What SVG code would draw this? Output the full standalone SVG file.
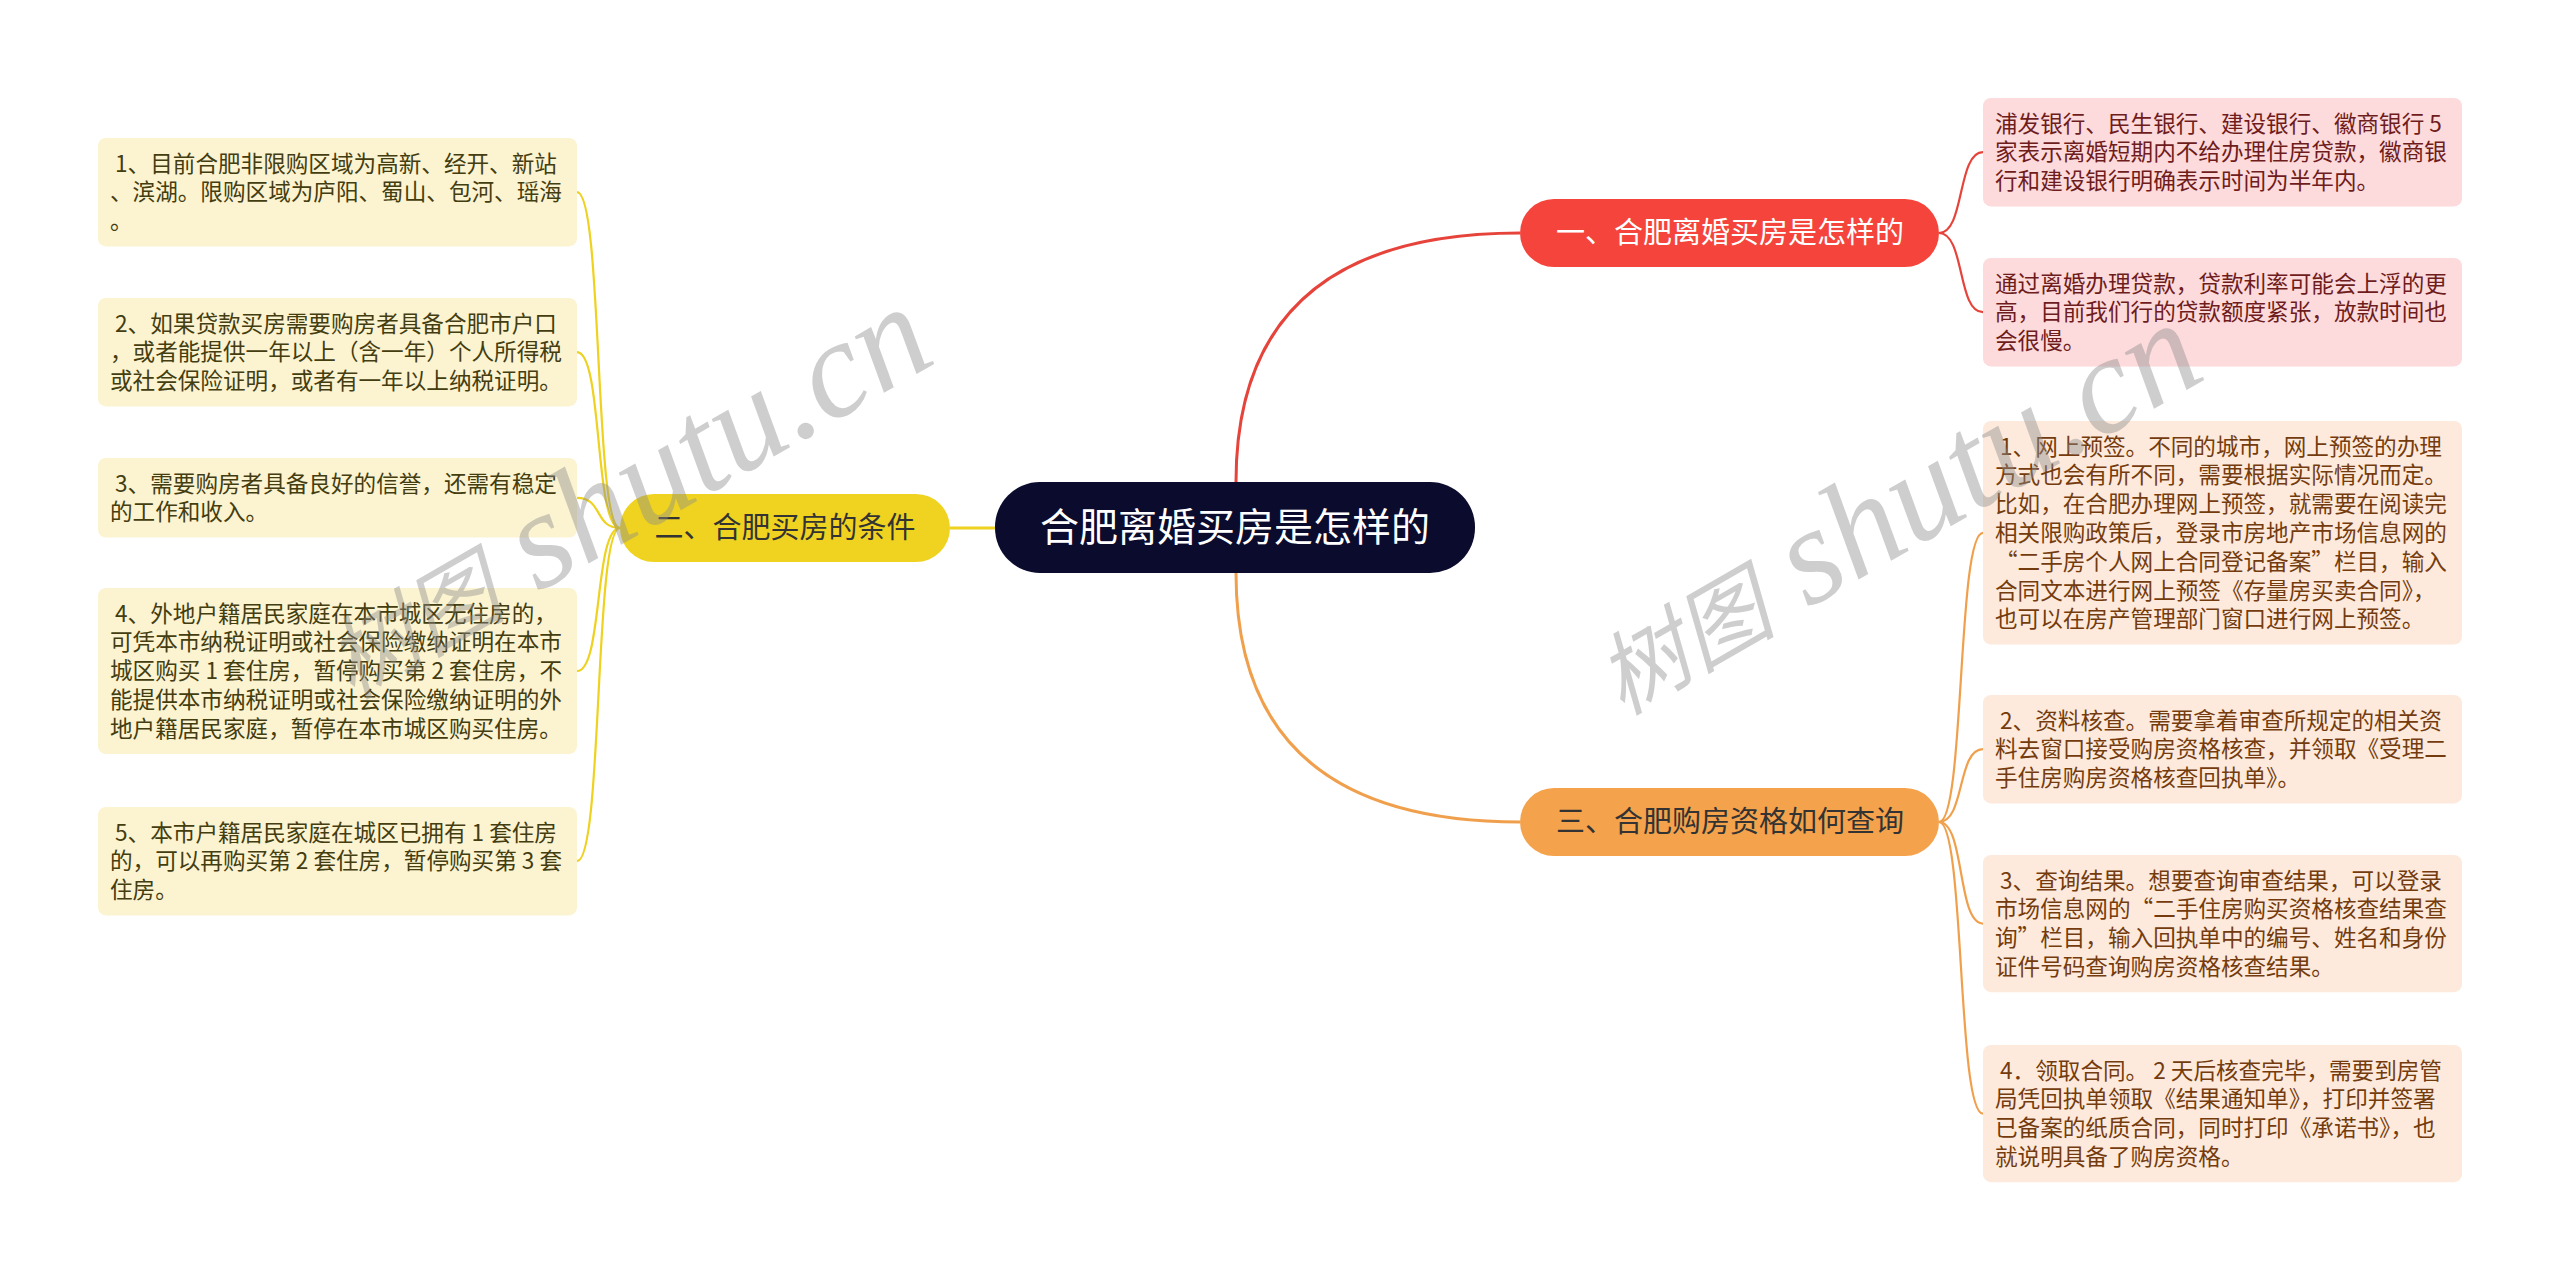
<svg xmlns="http://www.w3.org/2000/svg" width="2560" height="1281" viewBox="0 0 2560 1281">
<style>
text{font-family:"Noto Sans CJK SC","Noto Sans",sans-serif;white-space:pre}
.t{font-size:22.6px}
.ty{fill:#433d10}
.tr{fill:#6e1c1c}
.to{fill:#743c0e}
.by{fill:#fcf3d1}
.br{fill:#fddadb}
.bo{fill:#fdeadc}
.mn{font-size:29px;text-anchor:middle}
.cy{fill:none;stroke:#eed21f;stroke-width:2.2}
.cr{fill:none;stroke:#e6443b;stroke-width:2.2}
.co{fill:none;stroke:#f0a04c;stroke-width:2.2}
.wm{font-family:"Liberation Serif","Noto Sans CJK SC",serif;font-style:italic;font-size:138px;fill:#8c8c8c;opacity:0.42}
.wc{font-size:90px;font-family:"Noto Sans CJK SC",serif}
</style>
<rect width="2560" height="1281" fill="#ffffff"/>
<g id="connectors">
<path class="cr" d="M1236,482 Q1236,233 1520,233" style="stroke-width:3"/>
<path class="co" d="M1236,573 Q1236,822 1520,822" style="stroke-width:3"/>
<path class="cy" d="M995,528 L950,528" style="stroke-width:3"/>
<path class="cy" d="M620,528 C594,528 603,192.2 577,192.2"/>
<path class="cy" d="M620,528 C594,528 603,352.2 577,352.2"/>
<path class="cy" d="M620,528 C594,528 603,497.8 577,497.8"/>
<path class="cy" d="M620,528 C594,528 603,671 577,671"/>
<path class="cy" d="M620,528 C594,528 603,861.2 577,861.2"/>
<path class="cr" d="M1939,233 C1965,233 1957,152.2 1983,152.2"/>
<path class="cr" d="M1939,233 C1965,233 1957,312.2 1983,312.2"/>
<path class="co" d="M1939,822 C1965,822 1957,532.8 1983,532.8"/>
<path class="co" d="M1939,822 C1965,822 1957,749.2 1983,749.2"/>
<path class="co" d="M1939,822 C1965,822 1957,923.6 1983,923.6"/>
<path class="co" d="M1939,822 C1965,822 1957,1113.6 1983,1113.6"/>
</g>
<g id="root">
<rect x="995" y="482" width="480" height="91" rx="45" fill="#0b0b2d"/>
<text x="1235" y="541" style="font-size:39px;text-anchor:middle;fill:#ffffff">合肥离婚买房是怎样的</text>
</g>
<g id="branch1">
<rect x="1520" y="199" width="419" height="68" rx="34" fill="#f5443b"/>
<text class="mn" x="1730" y="243" style="fill:#ffffff">一、合肥离婚买房是怎样的</text>
</g>
<g id="branch2">
<rect x="620" y="494" width="330" height="68" rx="34" fill="#efd320"/>
<text class="mn" x="785" y="538" style="fill:#333333">二、合肥买房的条件</text>
</g>
<g id="branch3">
<rect x="1520" y="788" width="419" height="68" rx="34" fill="#f4a24c"/>
<text class="mn" x="1730" y="832" style="fill:#333333">三、合肥购房资格如何查询</text>
</g>
<g id="y1">
<rect class="by" x="98" y="138" width="479" height="108.4" rx="8"/>
<text class="t ty" x="110" y="171.5"> 1、目前合肥非限购区域为高新、经开、新站</text>
<text class="t ty" x="110" y="200.3">、滨湖。限购区域为庐阳、蜀山、包河、瑶海</text>
<text class="t ty" x="110" y="229.1">。</text>
</g>
<g id="y2">
<rect class="by" x="98" y="298" width="479" height="108.4" rx="8"/>
<text class="t ty" x="110" y="331.5"> 2、如果贷款买房需要购房者具备合肥市户口</text>
<text class="t ty" x="110" y="360.3">，或者能提供一年以上（含一年）个人所得税</text>
<text class="t ty" x="110" y="389.1">或社会保险证明，或者有一年以上纳税证明。</text>
</g>
<g id="y3">
<rect class="by" x="98" y="458" width="479" height="79.6" rx="8"/>
<text class="t ty" x="110" y="491.5"> 3、需要购房者具备良好的信誉，还需有稳定</text>
<text class="t ty" x="110" y="520.3">的工作和收入。</text>
</g>
<g id="y4">
<rect class="by" x="98" y="588" width="479" height="166" rx="8"/>
<text class="t ty" x="110" y="621.5"> 4、外地户籍居民家庭在本市城区无住房的，</text>
<text class="t ty" x="110" y="650.3">可凭本市纳税证明或社会保险缴纳证明在本市</text>
<text class="t ty" x="110" y="679.1">城区购买 1 套住房，暂停购买第 2 套住房，不</text>
<text class="t ty" x="110" y="707.9">能提供本市纳税证明或社会保险缴纳证明的外</text>
<text class="t ty" x="110" y="736.7">地户籍居民家庭，暂停在本市城区购买住房。</text>
</g>
<g id="y5">
<rect class="by" x="98" y="807" width="479" height="108.4" rx="8"/>
<text class="t ty" x="110" y="840.5"> 5、本市户籍居民家庭在城区已拥有 1 套住房</text>
<text class="t ty" x="110" y="869.3">的，可以再购买第 2 套住房，暂停购买第 3 套</text>
<text class="t ty" x="110" y="898.1">住房。</text>
</g>
<g id="r1">
<rect class="br" x="1983" y="98" width="479" height="108.4" rx="8"/>
<text class="t tr" x="1995" y="131.5">浦发银行、民生银行、建设银行、徽商银行 5</text>
<text class="t tr" x="1995" y="160.3">家表示离婚短期内不给办理住房贷款，徽商银</text>
<text class="t tr" x="1995" y="189.1">行和建设银行明确表示时间为半年内。</text>
</g>
<g id="r2">
<rect class="br" x="1983" y="258" width="479" height="108.4" rx="8"/>
<text class="t tr" x="1995" y="291.5">通过离婚办理贷款，贷款利率可能会上浮的更</text>
<text class="t tr" x="1995" y="320.3">高，目前我们行的贷款额度紧张，放款时间也</text>
<text class="t tr" x="1995" y="349.1">会很慢。</text>
</g>
<g id="o1">
<rect class="bo" x="1983" y="421" width="479" height="223.6" rx="8"/>
<text class="t to" x="1995" y="454.5"> 1、网上预签。不同的城市，网上预签的办理</text>
<text class="t to" x="1995" y="483.3">方式也会有所不同，需要根据实际情况而定。</text>
<text class="t to" x="1995" y="512.1">比如，在合肥办理网上预签，就需要在阅读完</text>
<text class="t to" x="1995" y="540.9">相关限购政策后，登录市房地产市场信息网的</text>
<text class="t to" x="1995" y="569.7">“二手房个人网上合同登记备案”栏目，输入</text>
<text class="t to" x="1995" y="598.5">合同文本进行网上预签《存量房买卖合同》，</text>
<text class="t to" x="1995" y="627.3">也可以在房产管理部门窗口进行网上预签。</text>
</g>
<g id="o2">
<rect class="bo" x="1983" y="695" width="479" height="108.4" rx="8"/>
<text class="t to" x="1995" y="728.5"> 2、资料核查。需要拿着审查所规定的相关资</text>
<text class="t to" x="1995" y="757.3">料去窗口接受购房资格核查，并领取《受理二</text>
<text class="t to" x="1995" y="786.1">手住房购房资格核查回执单》。</text>
</g>
<g id="o3">
<rect class="bo" x="1983" y="855" width="479" height="137.2" rx="8"/>
<text class="t to" x="1995" y="888.5"> 3、查询结果。想要查询审查结果，可以登录</text>
<text class="t to" x="1995" y="917.3">市场信息网的“二手住房购买资格核查结果查</text>
<text class="t to" x="1995" y="946.1">询”栏目，输入回执单中的编号、姓名和身份</text>
<text class="t to" x="1995" y="974.9">证件号码查询购房资格核查结果。</text>
</g>
<g id="o4">
<rect class="bo" x="1983" y="1045" width="479" height="137.2" rx="8"/>
<text class="t to" x="1995" y="1078.5"> 4．领取合同。 2 天后核查完毕，需要到房管</text>
<text class="t to" x="1995" y="1107.3">局凭回执单领取《结果通知单》，打印并签署</text>
<text class="t to" x="1995" y="1136.1">已备案的纸质合同，同时打印《承诺书》，也</text>
<text class="t to" x="1995" y="1164.9">就说明具备了购房资格。</text>
</g>
<g id="watermarks">
<text class="wm" transform="translate(352,700) rotate(-30)"><tspan class="wc">树图</tspan> shutu.cn</text>
<text class="wm" transform="translate(1622,716) rotate(-30)"><tspan class="wc">树图</tspan> shutu.cn</text>
</g>
</svg>
